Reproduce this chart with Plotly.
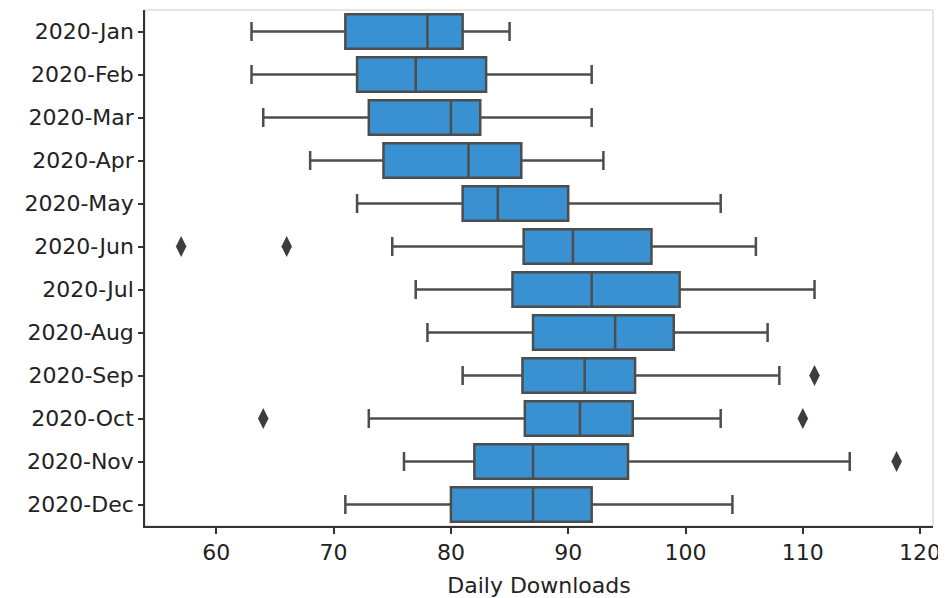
import plotly.graph_objects as go

months = ["2020-Jan", "2020-Feb", "2020-Mar", "2020-Apr", "2020-May", "2020-Jun",
          "2020-Jul", "2020-Aug", "2020-Sep", "2020-Oct", "2020-Nov", "2020-Dec"]
lower = [63, 63, 64, 68, 72, 75, 77, 78, 81, 73, 76, 71]
q1 = [71, 72, 73, 74.25, 81, 86.2, 85.25, 87, 86.1, 86.3, 82, 80]
median = [78, 77, 80, 81.5, 84, 90.4, 92, 94, 91.4, 91, 87, 87]
q3 = [81, 83, 82.5, 86, 90, 97.1, 99.5, 99, 95.7, 95.5, 95.1, 92]
upper = [85, 92, 92, 93, 103, 106, 111, 107, 108, 103, 114, 104]

outlier_month = ["2020-Jun", "2020-Jun", "2020-Sep", "2020-Oct", "2020-Oct", "2020-Nov"]
outlier_value = [57, 66, 111, 64, 110, 118]

fig = go.Figure()
fig.add_trace(go.Box(
    y=months, q1=q1, median=median, q3=q3,
    lowerfence=lower, upperfence=upper,
    orientation="h", width=0.8, whiskerwidth=0.55,
    fillcolor="#3a91d2", line=dict(color="#4d4d4d", width=2.5),
    boxpoints=False, showlegend=False,
))
fig.add_trace(go.Scatter(
    x=outlier_value, y=outlier_month, mode="markers",
    marker=dict(symbol="diamond-tall", size=15, color="#3d3d3d"),
    showlegend=False,
))

font = dict(family="DejaVu Sans", size=22, color="#222222")
fig.update_layout(
    width=938, height=590,
    margin=dict(l=137, r=13, t=2, b=72, autoexpand=False),
    paper_bgcolor="white", plot_bgcolor="white",
    font=font,
    shapes=[dict(type="rect", xref="paper", yref="paper", x0=0, y0=0, x1=1, y1=1,
                 line=dict(color="#cccccc", width=1), layer="below")],
)
fig.update_xaxes(
    range=[53.92, 121.1], tickvals=[60, 70, 80, 90, 100, 110, 120],
    showgrid=False, zeroline=False, showline=True, linecolor="#333333", linewidth=1.5,
    ticks="outside", ticklen=6, tickwidth=1.5, tickcolor="#333333",
    title=dict(text="Daily Downloads", font=font, standoff=14),
    tickfont=font, automargin=False,
)
fig.update_yaxes(
    type="category", categoryorder="array", categoryarray=months,
    range=[11.5, -0.5],
    showgrid=False, zeroline=False, showline=True, linecolor="#333333", linewidth=1.5,
    ticks="outside", ticklen=5, tickwidth=1.5, tickcolor="#333333",
    tickfont=font, automargin=False,
)

fig.write_html("out.html")
